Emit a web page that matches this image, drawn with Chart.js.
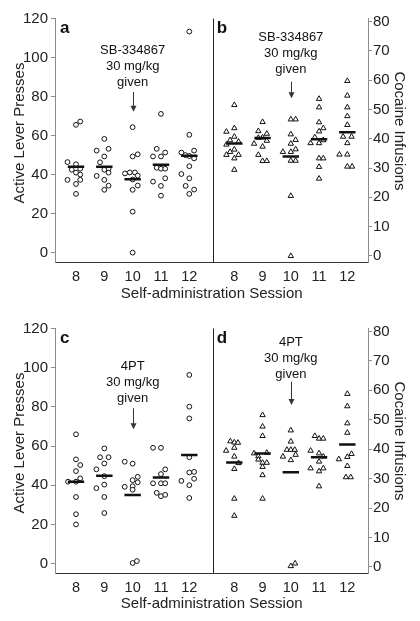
<!DOCTYPE html>
<html>
<head>
<meta charset="utf-8">
<script src="https://cdn.jsdelivr.net/npm/chart.js"></script>
<style>
  html, body { margin: 0; padding: 0; background: #fff; }
  .panel { position: absolute; left: 0; width: 420px; }
  #top { top: 0; height: 310px; }
  #bottom { top: 310px; height: 311px; }
</style>
</head>
<body>
<div class="panel" id="top"><canvas id="chartTop" width="420" height="310"></canvas></div>
<div class="panel" id="bottom"><canvas id="chartBottom" width="420" height="311"></canvas></div>
<script>
// sessions and axis ticks
const sessions = [8, 9, 10, 11, 12];
const leverTicks = [0, 20, 40, 60, 80, 100, 120];
const infusionTicks = [0, 10, 20, 30, 40, 50, 60, 70, 80];

// [session (with jitter), value]
const pressesSB = [
  [8, 65.5], [8.15, 67.2], [7.7, 46.4], [8, 45.3], [7.85, 42.5], [8.15, 43], [8, 41], [8.15, 40], [7.7, 37.3], [8.15, 37.3], [8, 35.2], [8, 30.1],
  [9, 58.3], [8.73, 52.3], [9.15, 53.2], [9, 49.3], [8.85, 46.3], [9.15, 43], [9, 42.5], [9.15, 41], [8.73, 39.3], [9, 37.3], [9.15, 34.3], [9, 32.2],
  [10, 64.3], [10, 49.3], [10.18, 50.4], [9.73, 40.6], [9.9, 41.1], [10.08, 41.1], [10.18, 39.5], [10, 37.5], [10.18, 34.4], [10, 32.2], [10, 21], [10, 0],
  [11, 71.1], [10.85, 53.2], [10.72, 49.3], [11, 49.3], [11.15, 51.3], [10.85, 43.5], [11, 43], [11.15, 43], [10.72, 36.4], [11.15, 38.1], [11, 34.2], [11, 29.2],
  [12, 113.3], [12, 60.4], [11.72, 51.3], [11.86, 50], [12.17, 52.3], [12.17, 48.3], [12, 49.5], [12, 44.3], [11.72, 40.3], [12, 38.1], [11.87, 34.2], [12.17, 32.3], [12, 30.1]
];
const infusionsSB = [
  [8, 51.5], [7.72, 42.4], [8, 43.6], [8, 40.7], [7.85, 39.5], [8.15, 39], [7.72, 38], [8, 36.3], [7.85, 35.5], [7.72, 34.5], [8.15, 34.5], [8, 33.3], [8, 29.4],
  [9, 45.7], [8.85, 42.6], [9.15, 41.7], [8.7, 38.3], [8.85, 40.3], [9, 40.4], [9.15, 39.3], [9, 37.3], [8.85, 34.5], [9, 32.4], [9.15, 32.4],
  [10, 46.6], [10.17, 46.6], [10, 41.5], [10.17, 39.6], [10, 38.3], [10.17, 36.4], [9.72, 35.5], [10, 35.5], [10, 32.5], [10.17, 32.5], [10, 20.5], [10, 0],
  [11, 53.6], [11, 50.7], [11, 45.6], [11.15, 43.6], [11, 42.5], [10.85, 40.5], [10.7, 38.5], [11, 38.5], [11.15, 39.5], [11, 33.3], [11.15, 33.3], [11, 30.4], [11, 26.4],
  [12, 59.7], [12, 54.7], [12, 50.7], [12, 47.7], [12, 44.7], [11.85, 40.7], [12.15, 40.7], [12, 38.5], [11.72, 34.6], [12, 34.6], [12, 30.5], [12.17, 30.5]
];
const pressesPT = [
  [8, 66], [8, 53.2], [8.15, 50.3], [8, 47.2], [8.15, 43.5], [7.72, 41.8], [8, 41.8], [8, 34], [8, 25.2], [8, 20],
  [9, 58.8], [8.85, 54.3], [9.15, 54.3], [9, 51.1], [8.72, 48.1], [9, 44.6], [8.72, 38.5], [9, 40.3], [9, 34], [9, 25.8],
  [9.72, 52], [10, 51], [10.18, 44.3], [10, 42.6], [10.18, 41.5], [9.72, 39.2], [10, 39.5], [10, 37.7], [10, 0.3], [10.15, 1.3],
  [10.72, 59.1], [11, 59.1], [11.15, 48.1], [11, 45.7], [10.72, 41], [11, 41], [11.15, 41], [10.85, 36.1], [11, 34.4], [11.15, 35.1],
  [12, 96.3], [12, 80.1], [12, 74.1], [12, 54.3], [12, 46.5], [12.17, 46.8], [11.72, 42.2], [12.17, 43.3], [12, 40], [12, 33.5]
];
const infusionsPT = [
  [7.86, 42.7], [8, 42.3], [8.13, 42.2], [7.71, 39.5], [8, 40.5], [8, 37.5], [8.15, 35.3], [8, 33.3], [8, 23.2], [8, 17.4],
  [9, 51.6], [9, 47.7], [9, 44.5], [8.7, 38.6], [8.85, 37.6], [9.15, 38.8], [8.85, 36.5], [9, 35.4], [9.15, 35.4], [9, 34], [9, 31.2], [9, 23.2],
  [10, 46.4], [10, 42.6], [9.86, 39.8], [10, 39.8], [10.14, 39.8], [9.72, 37.5], [10.17, 38.1], [10, 36.3], [10, 0.3], [10.15, 1.2],
  [10.85, 44.5], [11, 43.6], [11.15, 43.6], [10.7, 39.5], [11, 38.6], [11.15, 37.5], [11, 35.8], [10.7, 33.5], [11, 32.5], [11.15, 33.5], [11, 27.4],
  [12, 58.8], [12, 54.6], [12, 48.8], [12, 45.6], [11.7, 36.6], [12, 37.4], [12.15, 38.4], [12, 34.3], [11.95, 30.5], [12.12, 30.5]
];

// group means (black bars)
const meanPressesSB = [44, 44, 37.6, 45, 49.7];
const meanInfusionsSB = [38.4, 40.2, 33.9, 39.8, 42.2];
const meanPressesPT = [41.8, 44.8, 35, 44, 55.4];
const meanInfusionsPT = [35.5, 38.5, 32.2, 37.3, 41.6];

const noteLines = ['30 mg/kg', 'given'];
const FONT = '"Liberation Sans", Arial, sans-serif';
Chart.defaults.font.family = FONT;

function toPoints(pairs) {
  return pairs.map(p => ({ x: p[0], y: p[1] }));
}

function meanLine(means) {
  const pts = [];
  sessions.forEach((s, i) => {
    pts.push({ x: s - 0.29, y: means[i] }, { x: s + 0.29, y: means[i] }, { x: s + 0.5, y: null });
  });
  return pts;
}

const decorPlugin = {
  id: 'decor',
  afterDraw(chart, args, o) {
    const { ctx, chartArea, scales } = chart;
    ctx.save();
    // divider between the two halves
    const xDiv = Math.round(scales.xR.left) + 0.5;
    ctx.strokeStyle = '#222';
    ctx.lineWidth = 1;
    ctx.beginPath();
    ctx.moveTo(xDiv, chartArea.top);
    ctx.lineTo(xDiv, chartArea.bottom);
    ctx.stroke();

    // panel letters
    ctx.fillStyle = '#111';
    ctx.font = 'bold 17px ' + FONT;
    ctx.textAlign = 'left';
    ctx.textBaseline = 'alphabetic';
    ctx.fillText(o.letters[0], chartArea.left + 5, 33);
    ctx.fillText(o.letters[1], scales.xR.left + 4, 33);

    // drug notes with arrows
    ctx.font = '13px ' + FONT;
    ctx.textAlign = 'center';
    ctx.textBaseline = 'middle';
    [['xL', o.noteYL, o.arrowL], ['xR', o.noteYR, o.arrowR]].forEach(([id, y0, arrow]) => {
      const x = scales[id].getPixelForValue(10);
      [o.drug].concat(noteLines).forEach((t, i) => ctx.fillText(t, x, y0 + i * 16));
      const ax = Math.round(x) + 0.5;
      ctx.strokeStyle = '#333';
      ctx.beginPath();
      ctx.moveTo(ax, arrow[0]);
      ctx.lineTo(ax, arrow[1] - 4);
      ctx.stroke();
      ctx.fillStyle = '#333';
      ctx.beginPath();
      ctx.moveTo(ax - 3, arrow[1] - 6);
      ctx.lineTo(ax + 3, arrow[1] - 6);
      ctx.lineTo(ax, arrow[1]);
      ctx.closePath();
      ctx.fill();
      ctx.fillStyle = '#111';
    });

    // shared x title
    ctx.font = '15px ' + FONT;
    ctx.fillStyle = '#222';
    ctx.textBaseline = 'alphabetic';
    ctx.fillText('Self-administration Session', 211.7, 298);

    // y titles
    ctx.save();
    ctx.translate(24, 133);
    ctx.rotate(-Math.PI / 2);
    ctx.fillText('Active Lever Presses', 0, 0);
    ctx.restore();
    ctx.save();
    ctx.translate(395, 131);
    ctx.rotate(Math.PI / 2);
    ctx.fillText('Cocaine Infusions', 0, 0);
    ctx.restore();

    ctx.restore();
  }
};

function xScale(weight, min, max) {
  return {
    type: 'linear', position: 'bottom', stack: 'session', stackWeight: weight,
    min: min, max: max,
    afterBuildTicks: s => { s.ticks = sessions.map(v => ({ value: v })); },
    afterFit: s => { s.height = 48; },
    grid: { display: false },
    border: { color: '#333', width: 1 },
    ticks: { color: '#222', font: { size: 14.5 }, padding: -2, maxRotation: 0, minRotation: 0, autoSkip: false }
  };
}

function yScale(pos, min, max, ticks, width, pad) {
  return {
    type: 'linear', position: pos, min: min, max: max,
    afterBuildTicks: s => { s.ticks = ticks.map(v => ({ value: v })); },
    afterFit: s => { s.width = width; },
    grid: { drawOnChartArea: false, drawTicks: true, tickLength: 4, color: '#8c8c8c' },
    border: { color: '#8c8c8c', width: 1 },
    ticks: { color: '#222', font: { size: 15 }, padding: pad }
  };
}

function makeChart(id, presses, infusions, meanP, meanI, decor) {
  return new Chart(document.getElementById(id), {
    type: 'scatter',
    data: {
      datasets: [
        { type: 'line', data: meanLine(meanP), xAxisID: 'xL', yAxisID: 'yL', borderColor: '#111', borderWidth: 2.5, pointRadius: 0, spanGaps: false, order: 0 },
        { type: 'line', data: meanLine(meanI), xAxisID: 'xR', yAxisID: 'yR', borderColor: '#111', borderWidth: 2.5, pointRadius: 0, spanGaps: false, order: 0 },
        { data: toPoints(presses), xAxisID: 'xL', yAxisID: 'yL', pointStyle: 'circle', pointRadius: 2.4, borderWidth: 1, borderColor: '#111', backgroundColor: '#fff', order: 1 },
        { data: toPoints(infusions), xAxisID: 'xR', yAxisID: 'yR', pointStyle: 'triangle', pointRadius: 3.1, borderWidth: 1, borderColor: '#111', backgroundColor: '#fff', order: 1 }
      ]
    },
    options: {
      responsive: false,
      animation: false,
      layout: { padding: { top: 18.5, left: 0, right: 0, bottom: 0 } },
      plugins: { legend: { display: false }, tooltip: { enabled: false }, decor: decor },
      scales: {
        xL: xScale(157.7, 7.259, 12.826),
        xR: xScale(155.3, 7.235, 12.732),
        yL: yScale('left', -4.8, 120, leverTicks, 55, 3),
        yR: yScale('right', -2.05, 81, infusionTicks, 52, 1)
      }
    },
    plugins: [decorPlugin]
  });
}

makeChart('chartTop', pressesSB, infusionsSB, meanPressesSB, meanInfusionsSB, {
  letters: ['a', 'b'], drug: 'SB-334867', noteYL: 50.7, noteYR: 37, arrowL: [92, 111.7], arrowR: [81.7, 98.3]
});
makeChart('chartBottom', pressesPT, infusionsPT, meanPressesPT, meanInfusionsPT, {
  letters: ['c', 'd'], drug: '4PT', noteYL: 56.7, noteYR: 32, arrowL: [98.3, 119.3], arrowR: [71.7, 95]
});
</script>
</body>
</html>
